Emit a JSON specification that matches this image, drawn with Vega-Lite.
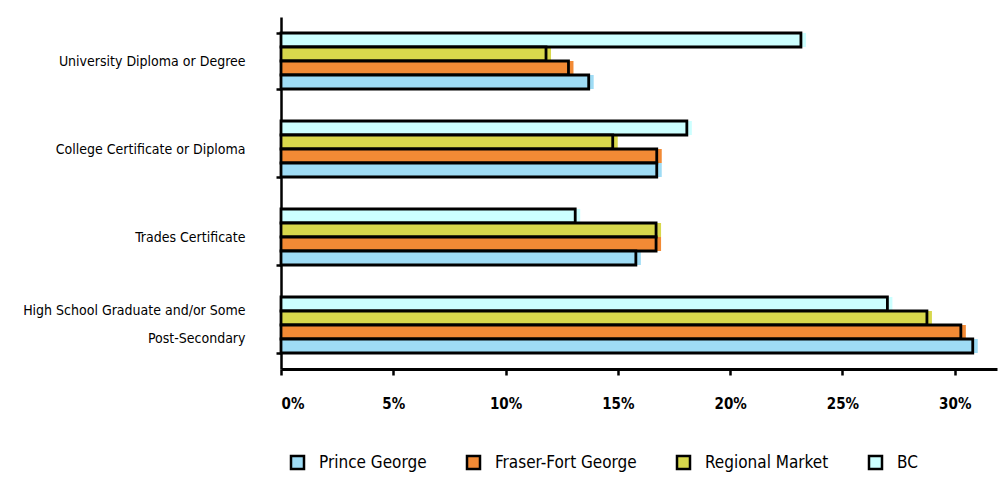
{
  "$schema": "https://vega.github.io/schema/vega-lite/v6.json",
  "autosize": {"type": "none"},
  "padding": {"left": 281, "top": 17, "right": 3, "bottom": 133},
  "width": 716,
  "height": 352,
  "background": "white",
  "config": {
    "view": {"stroke": null},
    "font": "DejaVu Sans Condensed, Liberation Sans"
  },
  "data": {
    "values": [
      {"category": "University Diploma or Degree", "series": "BC", "value": 0.2315},
      {"category": "University Diploma or Degree", "series": "Regional Market", "value": 0.118},
      {"category": "University Diploma or Degree", "series": "Fraser-Fort George", "value": 0.128},
      {"category": "University Diploma or Degree", "series": "Prince George", "value": 0.137},
      {"category": "College Certificate or Diploma", "series": "BC", "value": 0.1807},
      {"category": "College Certificate or Diploma", "series": "Regional Market", "value": 0.1477},
      {"category": "College Certificate or Diploma", "series": "Fraser-Fort George", "value": 0.1673},
      {"category": "College Certificate or Diploma", "series": "Prince George", "value": 0.1673},
      {"category": "Trades Certificate", "series": "BC", "value": 0.131},
      {"category": "Trades Certificate", "series": "Regional Market", "value": 0.167},
      {"category": "Trades Certificate", "series": "Fraser-Fort George", "value": 0.167},
      {"category": "Trades Certificate", "series": "Prince George", "value": 0.158},
      {"category": "High School Graduate and/or Some Post-Secondary", "series": "BC", "value": 0.27},
      {"category": "High School Graduate and/or Some Post-Secondary", "series": "Regional Market", "value": 0.2876},
      {"category": "High School Graduate and/or Some Post-Secondary", "series": "Fraser-Fort George", "value": 0.3027},
      {"category": "High School Graduate and/or Some Post-Secondary", "series": "Prince George", "value": 0.308}
    ]
  },
  "encoding": {
    "y": {
      "field": "category",
      "type": "nominal",
      "sort": ["University Diploma or Degree", "College Certificate or Diploma", "Trades Certificate", "High School Graduate and/or Some Post-Secondary"],
      "scale": {"paddingInner": 0.364, "paddingOuter": 0.182},
      "axis": {
        "title": null,
        "domainColor": "black",
        "domainWidth": 2.5,
        "tickBand": "extent",
        "tickColor": "black",
        "tickWidth": 2.5,
        "tickSize": 5,
        "labelFontSize": 14,
        "labelColor": "black",
        "labelPadding": 31,
        "labelLimit": 400,
        "labelLineHeight": 28,
        "labelOffset": {
          "condition": {"test": "datum.label == 'High School Graduate and/or Some Post-Secondary'", "value": -15},
          "value": 0
        },
        "labelExpr": "datum.label == 'High School Graduate and/or Some Post-Secondary' ? ['High School Graduate and/or Some', 'Post-Secondary'] : datum.label"
      }
    },
    "yOffset": {
      "field": "series",
      "sort": ["BC", "Regional Market", "Fraser-Fort George", "Prince George"]
    },
    "x": {
      "field": "value",
      "type": "quantitative",
      "scale": {"domain": [0, 0.3188], "nice": false},
      "axis": {
        "title": null,
        "format": ".0%",
        "values": [0, 0.05, 0.1, 0.15, 0.2, 0.25, 0.3],
        "grid": false,
        "domainColor": "black",
        "domainWidth": 3,
        "tickColor": "black",
        "tickWidth": 2.5,
        "tickSize": 6,
        "labelFontWeight": "bold",
        "labelFontSize": 15,
        "labelColor": "black",
        "labelPadding": 21
      }
    },
    "color": {
      "field": "series",
      "type": "nominal",
      "scale": {
        "domain": ["Prince George", "Fraser-Fort George", "Regional Market", "BC"],
        "range": ["#9fdcf5", "#f28a35", "#d8d84c", "#ccffff"]
      },
      "legend": {
        "title": null,
        "orient": "none",
        "direction": "horizontal",
        "legendX": 8,
        "legendY": 437,
        "padding": 0,
        "symbolType": "square",
        "symbolSize": 169,
        "symbolStrokeColor": "black",
        "symbolStrokeWidth": 2.5,
        "symbolOpacity": 1,
        "labelFontSize": 17,
        "labelColor": "black",
        "labelOffset": 13,
        "columnPadding": 35,
        "labelLimit": 300
      }
    }
  },
  "layer": [
    {"mark": {"type": "bar", "xOffset": 5, "yOffset": 5, "opacity": 1}},
    {"mark": {"type": "bar", "stroke": "black", "strokeWidth": 2.8, "opacity": 1}}
  ]
}
